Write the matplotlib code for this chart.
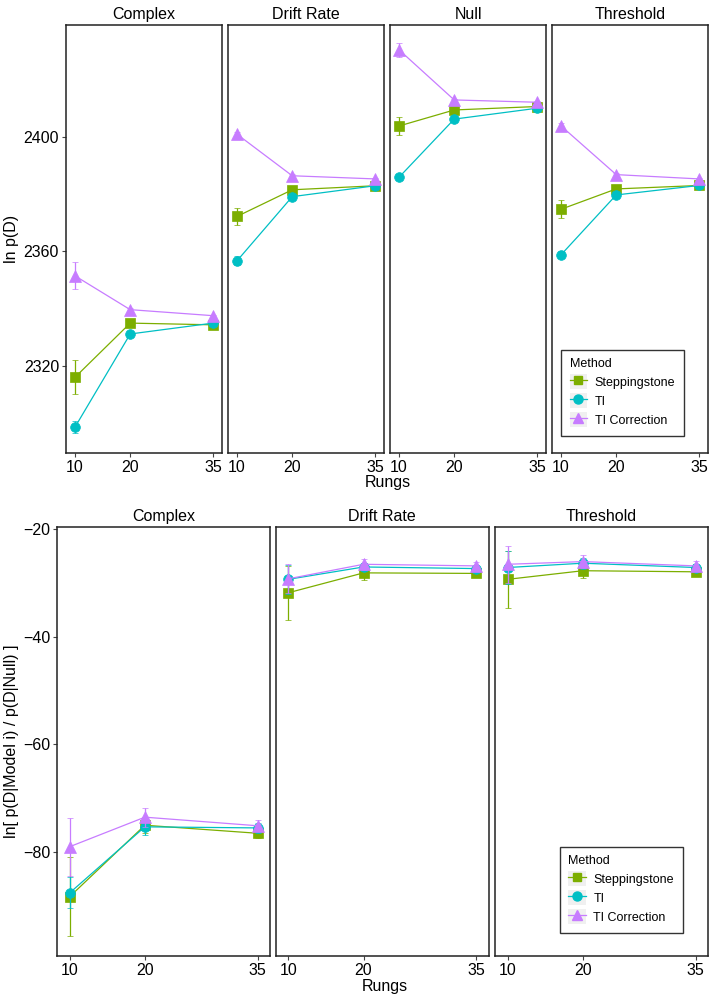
import matplotlib.pyplot as plt
from matplotlib.lines import Line2D
from matplotlib.patches import Patch
from matplotlib.legend_handler import HandlerTuple

plt.rcParams['font.family'] = ['Liberation Sans', 'DejaVu Sans']

rungs = [10, 20, 35]
methods = ["Steppingstone", "TI", "TI Correction"]
colors = ["#7CAE00", "#00BFC4", "#C77CFF"]
markers = ["s", "o", "^"]
msizes = [6.5, 7, 8]

# top row: ln p(D) per model, values for rungs 10, 20, 35
top_models = ["Complex", "Drift Rate", "Null", "Threshold"]
top_step = [[2316.0, 2334.9, 2334.3], [2372.2, 2381.5, 2382.9],
            [2403.8, 2409.4, 2410.6], [2374.7, 2381.8, 2383.0]]
top_step_err = [[6.0, 0.5, 0.4], [3.1, 0.6, 0.4], [3.1, 0.5, 0.4], [3.2, 0.5, 0.4]]
top_ti = [[2298.6, 2331.1, 2334.9], [2356.7, 2379.1, 2382.9],
          [2385.9, 2406.2, 2410.0], [2358.8, 2379.7, 2383.0]]
top_ti_err = [[2.0, 0.6, 0.4], [1.5, 0.5, 0.4], [0.6, 0.4, 0.3], [1.3, 0.5, 0.4]]
top_tic = [[2351.4, 2339.6, 2337.5], [2400.9, 2386.4, 2385.3],
           [2430.4, 2412.9, 2412.1], [2403.8, 2386.8, 2385.3]]
top_tic_err = [[4.7, 0.6, 0.4], [0.8, 0.5, 0.4], [2.5, 0.5, 0.4], [0.9, 0.5, 0.4]]

# bottom row: ln[ p(D|Model i) / p(D|Null) ]
bot_models = ["Complex", "Drift Rate", "Threshold"]
bot_step = [[-88.4, -75.1, -76.6], [-31.8, -28.1, -28.2], [-29.3, -27.7, -27.9]]
bot_step_err = [[7.4, 1.5, 0.8], [5.0, 1.3, 0.5], [5.3, 1.3, 0.7]]
bot_ti = [[-87.7, -75.4, -75.6], [-29.3, -27.0, -27.3], [-27.1, -26.3, -27.1]]
bot_ti_err = [[2.9, 1.6, 0.9], [2.7, 0.8, 0.6], [3.0, 1.0, 0.6]]
bot_tic = [[-79.1, -73.6, -75.2], [-29.2, -26.5, -26.8], [-26.5, -26.0, -26.8]]
bot_tic_err = [[5.4, 1.8, 1.0], [2.7, 1.0, 0.8], [3.4, 1.2, 1.0]]

fig = plt.figure(figsize=(7.14, 10), dpi=100)


def style_axes(ax, first):
    for s in ax.spines.values():
        s.set_linewidth(1.1)
        s.set_color('#222222')
    ax.tick_params(axis='both', direction='out', length=3, width=0.8,
                   color='#444444', labelsize=11.5, labelcolor='black', pad=2)
    ax.set_xticks(rungs)
    if not first:
        ax.tick_params(axis='y', left=False, labelleft=False)


def draw_panel(ax, series, errs):
    for k in range(3):
        ax.errorbar(rungs, series[k], yerr=errs[k], color=colors[k],
                    marker=markers[k], markersize=msizes[k], linewidth=0.9,
                    elinewidth=0.9, capsize=2.5, capthick=0.9,
                    markeredgewidth=0.5, markeredgecolor=colors[k], zorder=3 + k)


def add_legend(ax, anchor):
    handles = [(Patch(facecolor='#F0F0F0', edgecolor='none'),
                Line2D([0], [0], color=colors[k], marker=markers[k],
                       markersize=msizes[k] - 0.5, linewidth=0.9))
               for k in range(3)]
    leg = ax.legend(handles, methods, title="Method", loc='lower right',
                    bbox_to_anchor=anchor, fontsize=9, title_fontsize=9,
                    frameon=True, fancybox=False, edgecolor='black',
                    handlelength=1.4, handleheight=1.5, handletextpad=0.6,
                    borderpad=0.7, labelspacing=0.3, alignment='left',
                    handler_map={tuple: HandlerTuple(ndivide=1, pad=0)})
    leg.get_frame().set_linewidth(1.0)


# top row
top_x = [66, 228, 390, 552]
for i, name in enumerate(top_models):
    ax = fig.add_axes([top_x[i] / 714, 0.547, 156 / 714, 0.4283])
    draw_panel(ax, [top_step[i], top_ti[i], top_tic[i]],
               [top_step_err[i], top_ti_err[i], top_tic_err[i]])
    ax.set_xlim(8.35, 36.65)
    ax.set_ylim(2289.5, 2439.2)
    ax.set_yticks([2320, 2360, 2400])
    style_axes(ax, i == 0)
    ax.set_title(name, fontsize=11.5, pad=4)
    if i == 0:
        ax.set_ylabel("ln p(D)", fontsize=11.5, labelpad=3)
    if i == 3:
        add_legend(ax, (0.885, 0.025))

fig.text(388 / 714, 1 - 483 / 1000, "Rungs", ha='center', va='center', fontsize=11.5)

# bottom row
bot_x = [57.3, 276, 495.3]
for i, name in enumerate(bot_models):
    ax = fig.add_axes([bot_x[i] / 714, 0.0443, 212.7 / 714, 0.429])
    draw_panel(ax, [bot_step[i], bot_ti[i], bot_tic[i]],
               [bot_step_err[i], bot_ti_err[i], bot_tic_err[i]])
    ax.set_xlim(8.35, 36.65)
    ax.set_ylim(-99.4, -19.5)
    ax.set_yticks([-80, -60, -40, -20])
    ax.set_yticklabels(["\u221280", "\u221260", "\u221240", "\u221220"])
    style_axes(ax, i == 0)
    ax.set_title(name, fontsize=11.5, pad=4)
    if i == 0:
        ax.set_ylabel("ln[ p(D|Model i) / p(D|Null) ]", fontsize=11.5, labelpad=3)
    if i == 2:
        add_legend(ax, (0.91, 0.038))

fig.text(385 / 714, 1 - 986 / 1000, "Rungs", ha='center', va='center', fontsize=11.5)

fig.savefig("out.png", dpi=100)
